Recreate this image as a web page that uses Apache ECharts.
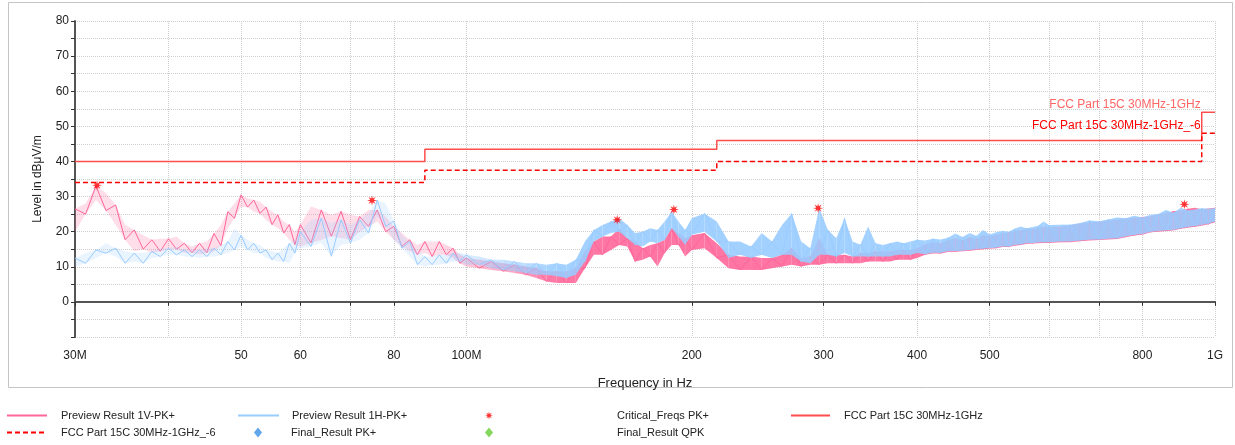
<!DOCTYPE html>
<html>
<head>
<meta charset="utf-8">
<script src="https://cdn.jsdelivr.net/npm/echarts@6/dist/echarts.min.js"></script>
<style>
  html, body { margin: 0; padding: 0; background: #fff; }
  #chart { width: 1235px; height: 445px; }
</style>
</head>
<body>
<div id="chart"></div>
<script>
// frequency sample points in MHz
const FREQ = [
  30, 31, 32, 33, 34, 35, 36, 37, 38, 39, 40, 41, 42, 43, 44, 45, 46, 47, 48, 49, 50, 51, 52, 53, 54, 55, 56, 57, 58, 59, 60,
  62, 64, 66, 68, 70, 72, 74, 76, 78, 80, 82, 84, 86, 88, 90, 92, 94, 96, 98, 100,
  104, 108, 112, 116, 120, 124, 128, 132, 136, 140, 144, 148, 152, 156, 160, 164, 168, 172, 176, 180, 184, 188, 192, 196, 200,
  208, 216, 224, 232, 240, 248, 256, 264, 272, 280, 288, 296, 304, 312, 320, 328, 336, 344, 352, 360, 368, 376, 384, 392, 400,
  410, 420, 430, 440, 450, 460, 470, 480, 490, 500, 510, 520, 530, 540, 550, 560, 570, 580, 590, 600,
  620, 640, 660, 680, 700, 720, 740, 760, 780, 800, 820, 840, 860, 880, 900, 920, 940, 960, 980, 1000
];

// Preview Result 1V-PK+ (upper / lower edge of the noisy trace)
const V1_HI = [
  26.5, 28, 33, 31, 27.6, 22, 20.5, 19, 17.7, 18, 18, 18.6, 16.7, 15.8, 16.7, 17.2, 19.5, 22, 25.7, 28, 30.5, 29.5, 29, 28.5, 27, 25.7, 24.8, 22.9, 22, 20, 22,
  27.2, 26.2, 24.8, 25.8, 24.8, 24.3, 26.2, 26.2, 24.3, 21.5, 19.6, 17.7, 16.2, 17.2, 17.2, 17.2, 16.2, 15.3, 13.4, 12.5,
  12, 11.5, 11, 10.6, 10.1, 9.6, 8.7, 8.7, 8.7, 9.6, 14.4, 17.2, 18.6, 18.6, 21, 18.1, 17.2, 15.3, 16.2, 16.7, 17.7, 21, 19.6, 18.1, 19,
  19.6, 16.7, 13.4, 12.9, 12.9, 12.5, 12.5, 13.4, 15.3, 12.5, 13, 18.1, 13.4, 13.4, 13.4, 12.9, 13.9, 13.9, 14.4, 14.4, 14.4, 14.8, 14.8, 14.8, 15.3,
  16.5, 17, 16.8, 17.5, 18.2, 17.6, 18.5, 18, 19, 18.6, 19.2, 19.5, 19.8, 20.2, 20.5, 20.6, 20.8, 21, 21.5, 21.2,
  21.5, 21.8, 22.3, 22.6, 22.8, 23.2, 23.5, 23.7, 24, 24.2, 24.4, 25, 25.3, 25.8, 26, 26.5, 26.8, 26.4, 26.6, 26.8
];
const V1_LO = [
  20, 25, 29, 26, 22, 17.7, 14.4, 15, 14, 14.4, 15, 15, 14, 14, 13.5, 14, 14.4, 16, 21, 23.8, 27, 27, 25.7, 25.2, 23.3, 22, 21, 19.6, 17.7, 16.3, 15.8,
  16.8, 17.7, 18.7, 18.2, 17.7, 20, 21.5, 22.9, 20, 17.7, 15.8, 14.4, 13.4, 13.9, 12.9, 13.4, 13.4, 12.5, 11, 10.1,
  9.6, 9.1, 8.7, 8.2, 7.7, 6.8, 5.8, 5.4, 5.4, 5.4, 9.6, 13.4, 13.4, 14.8, 16.2, 15.8, 11.5, 12, 12.9, 10.1, 13.9, 16.2, 16.2, 12.9, 14.8,
  15.3, 12.5, 9.6, 9.1, 9.1, 9.1, 9.6, 10.1, 10.6, 10.1, 10.6, 10.6, 11, 11, 11, 11, 11, 11.5, 11.5, 11.5, 11.5, 12, 12, 12, 12.5,
  13.4, 13.8, 13.8, 14.2, 14.3, 14.4, 14.6, 14.8, 15, 15.1, 15.3, 15.6, 15.6, 16, 16.2, 16.5, 16.6, 16.7, 16.8, 16.8,
  17, 17, 17.3, 17.5, 17.6, 17.8, 17.9, 18.4, 18.9, 19.1, 19.8, 20, 20.2, 20.3, 20.8, 21.1, 21.4, 21.7, 22.1, 22.7
];

// Preview Result 1H-PK+
const H1_HI = [
  12.5, 13.9, 14.8, 16.7, 15.3, 14.4, 13.9, 13.9, 14.4, 15.3, 15.3, 15.8, 14.8, 14.8, 14.8, 15.3, 15.3, 16.2, 17.2, 21, 19, 17.7, 16.7, 16.2, 14.8, 14.4, 13.9, 15.3, 16.7, 17.7, 20,
  23.4, 23.9, 22.5, 23.4, 22, 23.4, 25.3, 29, 28, 23, 19, 17.2, 14.4, 12.9, 12.9, 13.4, 13.4, 13.9, 13.9, 13.4,
  12.9, 12, 12, 11.5, 11, 11, 10.6, 11, 10.6, 12, 17.2, 20.5, 21.9, 22.9, 23.8, 21.9, 19.6, 20, 21, 20.5, 22.9, 25.7, 22.9, 20.5, 23.8,
  25.2, 22.9, 17.2, 17.2, 15.8, 19.6, 17.2, 21.9, 25.2, 17.2, 15.3, 26.7, 20.5, 18.1, 23.8, 17.2, 16.3, 21.5, 16.7, 16.2, 16.7, 17.2, 16.7, 17.2, 17.7,
  17.5, 18, 17.8, 18.3, 19.5, 18.5, 19.6, 18.8, 20.5, 19.2, 19.8, 20.2, 20, 20.8, 21.5, 21, 21.3, 21.6, 22.9, 21.9,
  22, 22, 22.5, 23.2, 23, 23.5, 24, 23.8, 24.5, 24, 24.8, 25, 26.2, 25.4, 26.8, 26, 26.3, 26.7, 26.5, 26.7
];
const H1_LO = [
  10.1, 11, 12.5, 13.9, 12.9, 11, 11.5, 11, 12.5, 12.9, 13.4, 13.4, 12.9, 12.9, 12.5, 12.9, 12.9, 13.4, 13.9, 14.8, 15.8, 14.8, 13.9, 13.9, 12.5, 12, 11.5, 11.5, 11, 13.9, 15.3,
  15.8, 16.8, 13, 16.3, 16.8, 17.7, 19.6, 24.3, 21.5, 17.5, 15.3, 12.9, 10.6, 10.1, 10.6, 10.6, 11, 11.5, 11.5, 10.6,
  10.6, 9.6, 9.1, 8.7, 8.2, 7.7, 7.7, 7.3, 6.8, 7.7, 11.5, 17.2, 18.6, 19.6, 20, 18.1, 16.3, 15.8, 17.2, 16.7, 17.7, 21, 18.6, 16.3, 19.1,
  20, 17.2, 12.5, 13.4, 12.5, 13.4, 12.5, 13.4, 13.4, 11.5, 11, 13.4, 13.4, 12.9, 13.9, 12.9, 12.9, 12.9, 12.9, 12.9, 12.9, 13.4, 13.4, 13.4, 13.9,
  13.6, 14, 14, 14.4, 14.5, 14.6, 14.8, 15, 15.2, 15.3, 15.5, 15.8, 15.8, 16.2, 16.4, 16.7, 16.8, 16.9, 17, 17,
  17.2, 17.2, 17.5, 17.7, 17.8, 18, 18.1, 18.6, 19.1, 19.3, 20, 20.2, 20.4, 20.5, 21, 21.3, 21.6, 21.9, 22.3, 22.9
];

// Critical_Freqs PK+
const CRIT_F = [32.1, 74.8, 159, 189.3, 295, 910];
const CRIT_V = [33.2, 28.9, 23.4, 26.3, 26.7, 27.8];

// limit lines (step changes)
const LIMIT_F = [30, 88, 216, 960, 1000];
const LIMIT_QP = [40, 43.5, 46, 54, 54];
const LIMIT_M6 = [34, 37.5, 40, 48, 48];

const X_TICKS = [30, 40, 50, 60, 70, 80, 100, 200, 300, 400, 500, 600, 700, 800, 1000];
const X_LABELS = [30, 50, 60, 80, 100, 200, 300, 400, 500, 800, 1000];

const FONT = 'Liberation Sans, Arial, sans-serif';
const PINK = '#ff6699';
const BLUE = '#99ccff';
const STAR = 'path://M20 10L13.7 11.53L17.07 17.07L11.53 13.7L10 20L8.47 13.7L2.93 17.07L6.3 11.53L0 10L6.3 8.47L2.93 2.93L8.47 6.3L10 0L11.53 6.3L17.07 2.93L13.7 8.47Z';

// noisy trace: zig-zag between the upper and lower edge
function trace(hi, lo) {
  return FREQ.map(function (f, i) {
    return [f, i % 2 === 0 ? hi[i] : lo[i]];
  });
}

function zip(xs, ys) {
  return xs.map(function (x, i) { return [x, ys[i]]; });
}

// one quad per pair of neighbouring samples: [f0, hi0, lo0, f1, hi1, lo1]
function quads(hi, lo) {
  let d = [];
  for (let i = 0; i < FREQ.length - 1; i++) {
    d.push([FREQ[i], hi[i], lo[i], FREQ[i + 1], hi[i + 1], lo[i + 1]]);
  }
  return d;
}

function bandSeries(name, hi, lo, color, z) {
  return {
    name: name,
    type: 'custom',
    silent: true,
    clip: true,
    z: z,
    data: quads(hi, lo),
    encode: { x: [0, 3], y: [1, 2, 4, 5] },
    renderItem: function (params, api) {
      const f = api.value(0);
      const a = api.coord([f, api.value(1)]);
      const b = api.coord([api.value(3), api.value(4)]);
      const c = api.coord([api.value(3), api.value(5)]);
      const d = api.coord([f, api.value(2)]);
      // the noise looks sparse below ~100 MHz and packed solid above
      let op = 0.22;
      if (f >= 130) {
        op = 0.9;
      } else if (f > 90) {
        op = 0.22 + (f - 90) / 40 * 0.68;
      }
      return {
        type: 'polygon',
        shape: { points: [a, b, c, d] },
        style: { fill: color, opacity: op, stroke: null }
      };
    }
  };
}

function legendAt(name, left, top, textPad, w, hideSymbol) {
  return {
    data: [name],
    left: left,
    top: top,
    padding: 0,
    orient: 'horizontal',
    itemWidth: w,
    itemHeight: 10,
    selectedMode: false,
    itemStyle: hideSymbol ? { opacity: 0 } : {},
    textStyle: { fontFamily: FONT, fontSize: 11, color: '#222', padding: [0, 0, 0, textPad] }
  };
}

const chart = echarts.init(document.getElementById('chart'));

const option = {
  animation: false,
  backgroundColor: '#fff',
  graphic: [{
    type: 'rect',
    shape: { x: 8.5, y: 2.5, width: 1224, height: 385 },
    style: { fill: 'none', stroke: '#c4c4c4', lineWidth: 1 },
    silent: true,
    z: -1
  }],
  grid: { left: 75, right: 20, top: 21, bottom: 108, containLabel: false },
  legend: [
    legendAt('Preview Result 1V-PK+', 6, 410, 9, 40, true),
    legendAt('FCC Part 15C 30MHz-1GHz_-6', 6, 427, 9, 40, true),
    legendAt('Preview Result 1H-PK+', 237, 410, 8, 41, true),
    legendAt('Final_Result PK+', 254, 427, 24, 8, false),
    legendAt('Critical_Freqs PK+', 485, 410, 119, 8, false),
    legendAt('Final_Result QPK', 485, 427, 119, 8, false),
    legendAt('FCC Part 15C 30MHz-1GHz', 790, 410, 9, 39, true)
  ],
  xAxis: {
    type: 'log',
    logBase: 10,
    min: 30,
    max: 1000,
    name: 'Frequency in Hz',
    nameLocation: 'middle',
    nameGap: 40,
    nameTextStyle: { fontFamily: FONT, fontSize: 13, color: '#222' },
    axisLine: { show: true, lineStyle: { color: '#555', width: 2 } },
    axisTick: { show: true, length: 4, customValues: X_TICKS, lineStyle: { color: '#333' } },
    minorTick: { show: false },
    axisLabel: {
      customValues: X_LABELS,
      margin: 13,
      fontFamily: FONT,
      fontSize: 12,
      color: '#222',
      formatter: function (v) {
        if (Math.abs(v - 30) < 0.01) return '30M';
        if (Math.abs(v - 100) < 0.01) return '100M';
        if (Math.abs(v - 1000) < 0.01) return '1G';
        return String(Math.round(v));
      }
    },
    splitLine: { show: true, lineStyle: { color: '#cfcfcf', type: 'dotted', width: 1 } }
  },
  yAxis: {
    type: 'value',
    min: -10,
    max: 80,
    interval: 5,
    name: 'Level in dBμV/m',
    nameLocation: 'middle',
    nameGap: 31,
    nameTextStyle: { fontFamily: FONT, fontSize: 12, color: '#222' },
    axisLine: { show: true, lineStyle: { color: '#555', width: 2 } },
    axisTick: { show: true, length: 4, lineStyle: { color: '#333' } },
    axisLabel: {
      margin: 6,
      fontFamily: FONT,
      fontSize: 12,
      color: '#222',
      formatter: function (v) { return (v % 10 === 0 && v > -10) ? String(v) : ''; }
    },
    splitLine: { show: true, lineStyle: { color: '#cfcfcf', type: 'dotted', width: 1 } }
  },
  series: [
    bandSeries('v1-band', V1_HI, V1_LO, PINK, 2),
    {
      name: 'Preview Result 1V-PK+',
      type: 'line',
      data: trace(V1_HI, V1_LO),
      showSymbol: false,
      symbol: 'none',
      lineStyle: { color: PINK, width: 1 },
      itemStyle: { color: PINK },
      z: 2
    },
    bandSeries('h1-band', H1_HI, H1_LO, BLUE, 3),
    {
      name: 'Preview Result 1H-PK+',
      type: 'line',
      data: trace(H1_HI, H1_LO),
      showSymbol: false,
      symbol: 'none',
      lineStyle: { color: BLUE, width: 1 },
      itemStyle: { color: BLUE },
      z: 3
    },
    {
      name: 'FCC Part 15C 30MHz-1GHz',
      type: 'line',
      step: 'end',
      data: zip(LIMIT_F, LIMIT_QP),
      showSymbol: false,
      symbol: 'none',
      lineStyle: { color: '#ff4d4d', width: 1.5 },
      itemStyle: { color: '#ff4d4d' },
      z: 4,
      markPoint: {
        symbol: 'circle',
        symbolSize: 0,
        data: [{ coord: [LIMIT_F[3], LIMIT_QP[3]] }],
        label: {
          show: true,
          position: [-1, -2],
          align: 'right',
          verticalAlign: 'bottom',
          formatter: 'FCC Part 15C 30MHz-1GHz',
          fontFamily: FONT,
          fontSize: 12,
          color: '#ff6666'
        }
      }
    },
    {
      name: 'FCC Part 15C 30MHz-1GHz_-6',
      type: 'line',
      step: 'end',
      data: zip(LIMIT_F, LIMIT_M6),
      showSymbol: false,
      symbol: 'none',
      lineStyle: { color: '#ff0000', width: 1.5, type: [5, 3] },
      itemStyle: { color: '#ff0000' },
      z: 4,
      markPoint: {
        symbol: 'circle',
        symbolSize: 0,
        data: [{ coord: [LIMIT_F[3], LIMIT_M6[3]] }],
        label: {
          show: true,
          position: [-1, -2],
          align: 'right',
          verticalAlign: 'bottom',
          formatter: 'FCC Part 15C 30MHz-1GHz_-6',
          fontFamily: FONT,
          fontSize: 12,
          color: '#ff0000'
        }
      }
    },
    {
      name: 'Critical_Freqs PK+',
      type: 'scatter',
      data: zip(CRIT_F, CRIT_V),
      symbol: STAR,
      symbolSize: 10,
      itemStyle: { color: '#ff0000' },
      z: 6
    },
    {
      name: 'Final_Result PK+',
      type: 'scatter',
      data: [],
      symbol: 'diamond',
      symbolSize: 8,
      itemStyle: { color: '#3a8ee6' }
    },
    {
      name: 'Final_Result QPK',
      type: 'scatter',
      data: [],
      symbol: 'diamond',
      symbolSize: 8,
      itemStyle: { color: '#66cc33' }
    }
  ]
};

chart.setOption(option);
</script>
</body>
</html>
